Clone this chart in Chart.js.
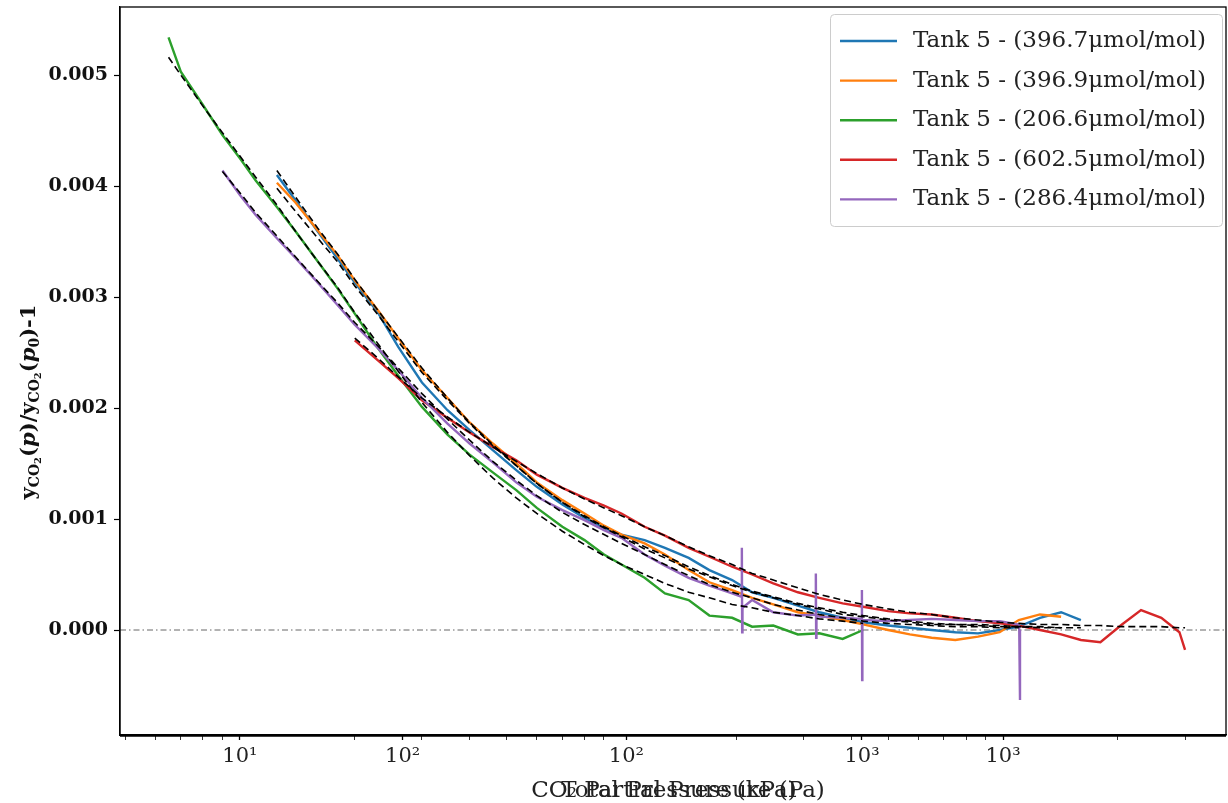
<!DOCTYPE html>
<html>
<head>
<meta charset="utf-8">
<script src="https://cdn.jsdelivr.net/npm/chart.js@4.4.0/dist/chart.umd.min.js"></script>
<style>
html, body { margin: 0; padding: 0; background: #fff; }
#wrap { width: 1228px; height: 803px; }
</style>
</head>
<body>
<div id="wrap"><canvas id="co2Chart" width="1228" height="803"></canvas></div>
<script>
// CO2 partial pressure grid (Pa), shared by all series
const pressure = [6.5, 7, 8, 9, 10, 11, 12.5, 14, 16, 18, 20, 23, 26, 30, 35, 40, 46, 53, 60, 70,
	80, 90, 100, 115, 130, 150, 170, 195, 220, 250, 290, 330, 380, 430, 500, 570, 650, 750, 860, 980,
	1100, 1250, 1420, 1600, 1800, 2050, 2300, 2600, 2900, 3000];

// measured ratio yCO2(p)/yCO2(p0)-1
const blueY = [null, null, null, null, null, null,
	0.00410, 0.00387, 0.00359, 0.00335, 0.00313, 0.00286, 0.00255, 0.00223, 0.00198, 0.00180, 0.00162, 0.00144, 0.00129, 0.00113,
	0.00101, 0.00092, 0.00086, 0.00081, 0.00074, 0.00065, 0.00054, 0.00045, 0.00034, 0.00029, 0.00022, 0.00016, 0.00011, 0.00007,
	0.00004, 0.00002, 0.00000, -0.00002, -0.00003, 0.00000, 0.00003, 0.00011, 0.00016, 0.00009,
	null, null, null, null, null, null];
const orangeY = [null, null, null, null, null, null,
	0.00403, 0.00385, 0.00360, 0.00338, 0.00315, 0.00288, 0.00263, 0.00234, 0.00209, 0.00187, 0.00168, 0.00150, 0.00133, 0.00117,
	0.00105, 0.00094, 0.00086, 0.00078, 0.00068, 0.00054, 0.00043, 0.00036, 0.00029, 0.00023, 0.00016, 0.00013, 0.00009, 0.00005,
	0.00000, -0.00004, -0.00007, -0.00009, -0.00006, -0.00002, 0.00009, 0.00014, 0.00012,
	null, null, null, null, null, null, null];
const greenY = [0.00534, 0.00503, 0.00473, 0.00446, 0.00425, 0.00405, 0.00381, 0.00359, 0.00332, 0.00308,
	0.00285, 0.00254, 0.00229, 0.00201, 0.00176, 0.00158, 0.00142, 0.00126, 0.00110, 0.00093,
	0.00081, 0.00068, 0.00059, 0.00047, 0.00033, 0.00027, 0.00013, 0.00011, 0.00003, 0.00004,
	-0.00004, -0.00003, -0.00008, 0.00000,
	null, null, null, null, null, null, null, null, null, null, null, null, null, null, null, null];
const redY = [null, null, null, null, null, null, null, null, null, null,
	0.00261, 0.00243, 0.00227, 0.00207, 0.00191, 0.00178, 0.00165, 0.00153, 0.00140, 0.00128,
	0.00119, 0.00112, 0.00105, 0.00093, 0.00085, 0.00074, 0.00066, 0.00057, 0.00050, 0.00042,
	0.00034, 0.00029, 0.00024, 0.00021, 0.00017, 0.00015, 0.00014, 0.00011, 0.00008, 0.00006,
	0.00004, 0.00000, -0.00004, -0.00009, -0.00011, 0.00005, 0.00018, 0.00011, -0.00002, -0.00018];
const purpleY = [null, null, null,
	0.00414, 0.00392, 0.00374, 0.00353, 0.00335, 0.00313, 0.00293, 0.00275, 0.00254, 0.00234, 0.00209,
	0.00186, 0.00168, 0.00151, 0.00133, 0.00120, 0.00108, 0.00099, 0.00090, 0.00083, 0.00068,
	0.00058, 0.00047, 0.00040, 0.00033, 0.00027, 0.00016, 0.00013, 0.00012, 0.00011, 0.00009,
	0.00008, 0.00009, 0.00010, 0.00009, 0.00008, 0.00008, 0.00005,
	null, null, null, null, null, null, null, null, null];
// purple glitches: base, peak, trough, back to base (plus the final drop)
const purpleSpikeX = [206.4, 206.8, 207.2, 207.6, 322.6, 323.2, 323.8, 324.4, 426.2, 426.8, 427.4, 428, 1103, 1108];
const purpleSpikeY = [0.00030, 0.00074, -0.00002, 0.00020, 0.00014, 0.00051, -0.00007, 0.00013, 0.00010, 0.00036, -0.00045, 0.00009, 0.00000, -0.00063];

// fitted curves (black dashed)
const blueFit = [null, null, null, null, null, null,
	0.00414, 0.00390, 0.00362, 0.00339, 0.00316, 0.00288, 0.00264, 0.00236, 0.00209, 0.00187, 0.00167, 0.00148, 0.00132, 0.00115,
	0.00102, 0.00092, 0.00084, 0.00073, 0.00065, 0.00055, 0.00048, 0.00040, 0.00034, 0.00029, 0.00023, 0.00019, 0.00014, 0.00012,
	0.00009, 0.00007, 0.00005, 0.00005, 0.00004, 0.00003, 0.00003, 0.00002, 0.00002, 0.00002,
	null, null, null, null, null, null];
const orangeFit = [null, null, null, null, null, null,
	0.00398, 0.00377, 0.00353, 0.00332, 0.00310, 0.00284, 0.00260, 0.00232, 0.00207, 0.00186, 0.00166, 0.00148, 0.00132, 0.00115,
	0.00103, 0.00093, 0.00085, 0.00075, 0.00067, 0.00057, 0.00049, 0.00041, 0.00035, 0.00030, 0.00024, 0.00020, 0.00016, 0.00013,
	0.00010, 0.00008, 0.00006, 0.00005, 0.00005, 0.00004, 0.00003, 0.00003, 0.00002,
	null, null, null, null, null, null, null];
const greenFit = [0.00516, 0.00500, 0.00472, 0.00448, 0.00427, 0.00408, 0.00383, 0.00359, 0.00332, 0.00309,
	0.00286, 0.00258, 0.00233, 0.00205, 0.00178, 0.00157, 0.00137, 0.00119, 0.00105, 0.00089,
	0.00077, 0.00067, 0.00059, 0.00050, 0.00042, 0.00034, 0.00029, 0.00023, 0.00020, 0.00016,
	0.00013, 0.00010, 0.00008, 0.00006,
	null, null, null, null, null, null, null, null, null, null, null, null, null, null, null, null];
const redFit = [null, null, null, null, null, null, null, null, null, null,
	0.00263, 0.00245, 0.00228, 0.00209, 0.00192, 0.00178, 0.00165, 0.00152, 0.00141, 0.00128,
	0.00118, 0.00110, 0.00103, 0.00093, 0.00085, 0.00075, 0.00067, 0.00059, 0.00051, 0.00045,
	0.00038, 0.00032, 0.00027, 0.00023, 0.00019, 0.00016, 0.00014, 0.00011, 0.00009, 0.00007,
	0.00006, 0.00005, 0.00005, 0.00004, 0.00004, 0.00003, 0.00003, 0.00003, 0.00002, 0.00002];
const purpleFit = [null, null, null,
	0.00413, 0.00394, 0.00376, 0.00355, 0.00336, 0.00314, 0.00295, 0.00277, 0.00256, 0.00236, 0.00213,
	0.00190, 0.00171, 0.00152, 0.00135, 0.00121, 0.00106, 0.00095, 0.00086, 0.00078, 0.00068,
	0.00059, 0.00049, 0.00041, 0.00034, 0.00029, 0.00023, 0.00018, 0.00014, 0.00011, 0.00008,
	0.00006, 0.00005, 0.00004, 0.00003, 0.00003, 0.00002, 0.00002,
	null, null, null, null, null, null, null, null, null];

const seriesLabels = ['Tank 5 - (396.7\u03bcmol/mol)', 'Tank 5 - (396.9\u03bcmol/mol)', 'Tank 5 - (206.6\u03bcmol/mol)',
	'Tank 5 - (602.5\u03bcmol/mol)', 'Tank 5 - (286.4\u03bcmol/mol)'];
const seriesColors = ['#1f77b4', '#ff7f0e', '#2ca02c', '#d62728', '#9467bd'];

// x axis: two overlaid axes in the original, so labels repeat
const xTickValues = [10, 26.7, 103, 427, 1000];
const xTickLabels = ['10\u00b9', '10\u00b2', '10\u00b2', '10\u00b3', '10\u00b3'];
const xMinorTicks = [5, 6, 7, 8, 9, 20, 30, 40, 50, 60, 70, 80, 90, 200, 300, 400, 500, 600, 700, 800, 900, 2000, 3000];
const yTickValues = [0, 0.001, 0.002, 0.003, 0.004, 0.005];

function toPoints(ys, extraX, extraY) {
	let pts = [];
	pressure.forEach((x, i) => {
		if (ys[i] !== null) pts.push({x: x, y: ys[i]});
	});
	(extraX || []).forEach((x, i) => pts.push({x: x, y: extraY[i]}));
	pts.sort((a, b) => a.x - b.x);
	return pts;
}

const measured = [blueY, orangeY, greenY, redY, purpleY];
const fitted = [blueFit, orangeFit, greenFit, redFit, purpleFit];
const drawOrder = [5, 4, 3, 2, 1];

let datasets = measured.map((ys, i) => ({
	label: seriesLabels[i],
	data: i == 4 ? toPoints(ys, purpleSpikeX, purpleSpikeY) : toPoints(ys),
	borderColor: seriesColors[i],
	backgroundColor: seriesColors[i],
	borderWidth: 2.4,
	showLine: true,
	pointRadius: 0,
	order: drawOrder[i],
}));
fitted.forEach((ys, i) => {
	datasets.push({
		label: 'fit',
		isFit: true,
		data: toPoints(ys),
		borderColor: '#000',
		borderDash: [7, 4],
		borderWidth: 1.6,
		showLine: true,
		pointRadius: 0,
		order: 0,
	});
});

const serif = '"DejaVu Serif", "Liberation Serif", serif';

const decor = {
	id: 'decor',
	beforeDatasetsDraw(chart) {
		const {ctx, chartArea: a, scales: {y}} = chart;
		const zy = y.getPixelForValue(0);
		ctx.save();
		ctx.strokeStyle = '#555';
		ctx.lineWidth = 0.9;
		ctx.setLineDash([6, 3, 1.5, 3]);
		ctx.beginPath();
		ctx.moveTo(a.left, zy);
		ctx.lineTo(a.right, zy);
		ctx.stroke();
		ctx.restore();
	},
	afterDraw(chart) {
		const {ctx, chartArea: a} = chart;
		ctx.save();
		// frame
		ctx.strokeStyle = '#000';
		ctx.lineWidth = 1.3;
		ctx.strokeRect(a.left, a.top, a.right - a.left, a.bottom - a.top);
		ctx.lineWidth = 2.6;
		ctx.beginPath();
		ctx.moveTo(a.left, a.bottom + 0.5);
		ctx.lineTo(a.right, a.bottom + 0.5);
		ctx.stroke();

		// x titles, overlapping as in the original
		ctx.fillStyle = '#222';
		ctx.font = '23px ' + serif;
		ctx.textAlign = 'center';
		ctx.textBaseline = 'alphabetic';
		ctx.fillText('CO\u2082 Partial Pressure (Pa)', 678, 797);
		ctx.fillText('Total Pressure (kPa)', 679, 797);

		// y title with subscripts
		const segs = [
			['y', 21, 0, ''], ['CO', 14, 5, ''], ['2', 10, 8, ''], ['(', 21, 0, ''], ['p', 21, 0, 'italic '],
			[')/y', 21, 0, ''], ['CO', 14, 5, ''], ['2', 10, 8, ''], ['(', 21, 0, ''], ['p', 21, 0, 'italic '],
			['0', 14, 5, ''], [')-1', 21, 0, '']
		];
		let total = 0;
		segs.forEach(s => {
			ctx.font = s[3] + 'bold ' + s[1] + 'px ' + serif;
			s.push(ctx.measureText(s[0]).width);
			total += s[4];
		});
		ctx.translate(30, 402);
		ctx.rotate(-Math.PI / 2);
		ctx.textAlign = 'left';
		ctx.textBaseline = 'middle';
		ctx.fillStyle = '#111';
		let cx = -total / 2;
		segs.forEach(s => {
			ctx.font = s[3] + 'bold ' + s[1] + 'px ' + serif;
			ctx.fillText(s[0], cx, s[2]);
			cx += s[4];
		});
		ctx.restore();

		// legend box
		ctx.save();
		ctx.fillStyle = 'rgba(255,255,255,0.85)';
		ctx.strokeStyle = '#cccccc';
		ctx.lineWidth = 1;
		ctx.beginPath();
		ctx.roundRect(830.5, 14.5, 392, 212, 4);
		ctx.fill();
		ctx.stroke();
		ctx.font = '23px ' + serif;
		ctx.textAlign = 'left';
		ctx.textBaseline = 'middle';
		chart.data.datasets.filter(d => !d.isFit).forEach((d, i) => {
			const ry = 41 + i * 39.6;
			ctx.strokeStyle = d.borderColor;
			ctx.lineWidth = 2.4;
			ctx.beginPath();
			ctx.moveTo(840, ry);
			ctx.lineTo(897, ry);
			ctx.stroke();
			ctx.fillStyle = '#222';
			ctx.fillText(d.label, 913, ry);
		});
		ctx.restore();
	}
};

new Chart(document.getElementById('co2Chart'), {
	type: 'scatter',
	data: {datasets: datasets},
	plugins: [decor],
	options: {
		responsive: false,
		devicePixelRatio: 1,
		animation: false,
		layout: {padding: {top: 7, right: 2, left: 0, bottom: 0}},
		plugins: {
			legend: {display: false},
			tooltip: {enabled: false},
		},
		elements: {line: {tension: 0}},
		scales: {
			x: {
				type: 'logarithmic',
				min: 4.85,
				max: 3841,
				afterBuildTicks: s => {
					s.ticks = xTickValues.concat(xMinorTicks).sort((a, b) => a - b).map(v => ({value: v}));
				},
				afterFit: s => {
					s.height = 68;
					s.paddingLeft = 0;
					s.paddingRight = 0;
				},
				ticks: {
					autoSkip: false,
					maxRotation: 0,
					padding: 4,
					color: '#222',
					font: {family: serif, size: 21},
					callback: v => {
						const k = xTickValues.indexOf(v);
						return k >= 0 ? xTickLabels[k] : '';
					}
				},
				grid: {
					drawOnChartArea: false,
					tickLength: 5,
					tickColor: '#000',
					tickWidth: c => (c.tick && xTickValues.indexOf(c.tick.value) >= 0) ? 1.3 : 0.8,
				},
				border: {display: true, color: '#000', width: 1.3},
			},
			y: {
				type: 'linear',
				min: -0.000946,
				max: 0.005613,
				afterBuildTicks: s => {
					s.ticks = yTickValues.map(v => ({value: v}));
				},
				afterFit: s => {
					s.width = 120;
					s.paddingTop = 0;
					s.paddingBottom = 0;
				},
				ticks: {
					padding: 6,
					color: '#111',
					font: {family: serif, size: 19, weight: 'bold'},
					callback: v => v.toFixed(3)
				},
				grid: {
					drawOnChartArea: false,
					tickLength: 6,
					tickColor: '#000',
					tickWidth: 1.2,
				},
				border: {display: true, color: '#000', width: 1.3},
			}
		}
	}
});
</script>
</body>
</html>
